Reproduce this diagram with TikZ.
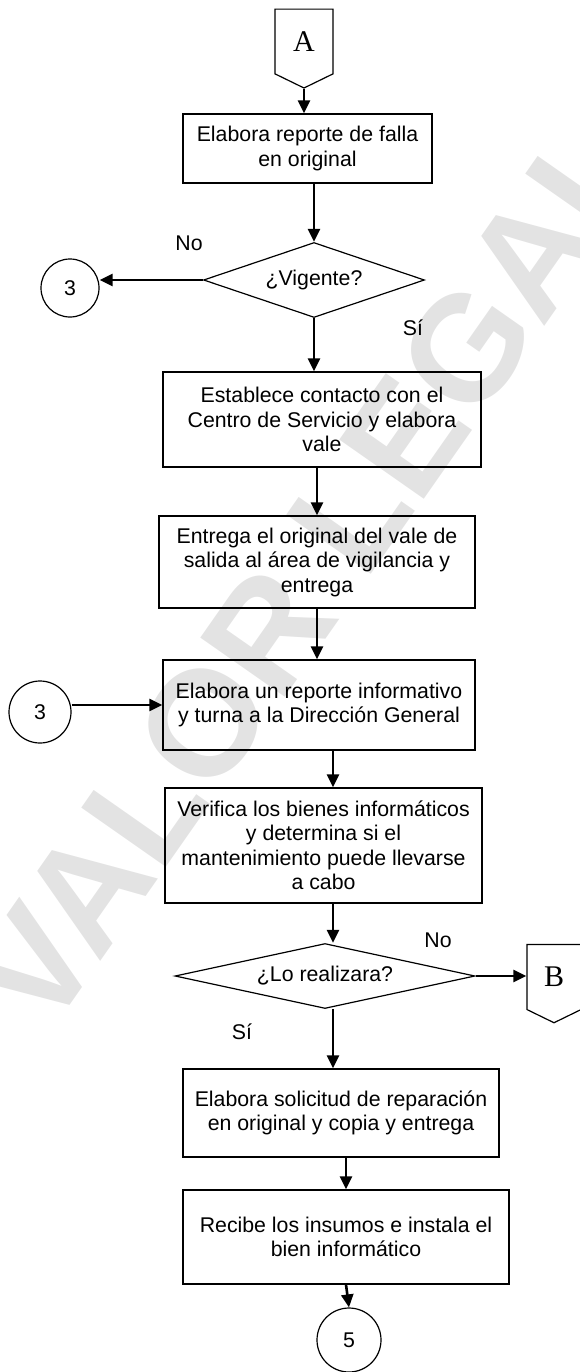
\documentclass[tikz,border=0pt]{standalone}
\usepackage{fontspec}
\setmainfont{Liberation Sans}
\newfontfamily\connfont{Liberation Serif}
\usetikzlibrary{shapes.geometric,shapes.symbols,arrows.meta}

\begin{document}
\begin{tikzpicture}[
        x=1pt, y=-1pt,
        every node/.style={font=\fontsize{21.3}{24.5}\selectfont},
        process/.style={
            rectangle,
            draw,
            line width=1.2pt,
            align=center,
            inner sep=2pt
        },
        decision/.style={
            diamond,
            draw,
            line width=1.2pt,
            align=center,
            inner sep=0pt
        },
        connector/.style={
            circle,
            draw,
            line width=1.2pt,
            inner sep=0pt,
            minimum size=60pt
        },
        offpage/.style={
            signal,
            signal to=south,
            signal pointer angle=128,
            draw,
            line width=1.2pt,
            inner sep=0pt,
            font=\connfont\fontsize{30}{30}\selectfont
        },
        watermark/.style={
            text=black!11,
            rotate=55,
            font=\bfseries\fontsize{150}{150}\selectfont
        },
        arrow/.style={-{Triangle[length=13pt,width=12pt]}, line width=2.6pt}
    ]

        \useasboundingbox (0,0) rectangle (580,1372);

        % Watermark
        \begin{scope}
            \clip (0,0) rectangle (580,1372);
            \node[watermark] (mark) at (310,572) {VALOR LEGAL};
        \end{scope}

        % Main flow
        \node[offpage, minimum width=58pt, minimum height=70pt] (offA) at (304,41.5) {A};
        \node[process, minimum width=249pt, minimum height=69pt] (report) at (307.5,148.5) {Elabora reporte de falla\\en original};
        \node[decision, aspect=2.95, minimum width=221pt, minimum height=75pt] (valid) at (314,280) {¿Vigente?};
        \node[connector, minimum size=58pt] (goto3) at (70,288) {3};
        \node[process, minimum width=318pt, minimum height=95pt] (contact) at (322,419.5) {Establece contacto con el\\Centro de Servicio y elabora\\vale};
        \node[process, minimum width=316pt, minimum height=92pt] (deliver) at (317,562) {Entrega el original del vale de\\salida al área de vigilancia y\\entrega};
        \node[process, minimum width=312pt, minimum height=90pt] (inform) at (319,705) {Elabora un reporte informativo\\y turna a la Dirección General};
        \node[connector, minimum size=62pt] (from3) at (40,712) {3};
        \node[process, minimum width=317pt, minimum height=115pt] (verify) at (323.5,845.5) {Verifica los bienes informáticos\\y determina si el\\mantenimiento puede llevarse\\a cabo};
        \node[decision, aspect=4.6, minimum width=300pt, minimum height=65pt] (doit) at (325,976) {¿Lo realizara?};
        \node[offpage, minimum width=54pt, minimum height=70pt] (offB) at (554,977) {B};
        \node[process, minimum width=316pt, minimum height=88pt] (request) at (341,1113) {Elabora solicitud de reparación\\en original y copia y entrega};
        \node[process, minimum width=326pt, minimum height=94pt] (install) at (346,1237) {Recibe los insumos e instala el\\bien informático};
        \node[connector, minimum size=64pt] (goto5) at (349,1340) {5};
        \coordinate (lower) at (333,0);

        % Answer labels
        \node (no1) at (189,243) {No};
        \node (si1) at (413,328) {Sí};
        \node (no2) at (438,940) {No};
        \node (si2) at (242,1032) {Sí};

        % Arrows
        \draw[arrow] (offA.south) -- (offA.south |- report.north);
        \draw[arrow] (report.south -| valid.north) -- (valid.north);
        \draw[arrow] (valid.west) -- (valid.west -| goto3.east);
        \draw[arrow] (valid.south) -- (valid.south |- contact.north);
        \draw[arrow] (contact.south -| deliver.north) -- (deliver.north);
        \draw[arrow] (deliver.south) -- (deliver.south |- inform.north);
        \draw[arrow] (from3.east |- inform.west) -- (inform.west);
        \draw[arrow] (inform.south -| lower) -- (verify.north -| lower);
        \draw[arrow] (verify.south -| lower) -- (lower |- doit.north);
        \draw[arrow] (doit.east) -- (doit.east -| offB.west);
        \draw[arrow] (doit.south -| lower) -- (request.north -| lower);
        \draw[arrow] (request.south -| install.north) -- (install.north);
        \draw[arrow] (install.south) -- (goto5.north);

    \end{tikzpicture}
\end{document}
